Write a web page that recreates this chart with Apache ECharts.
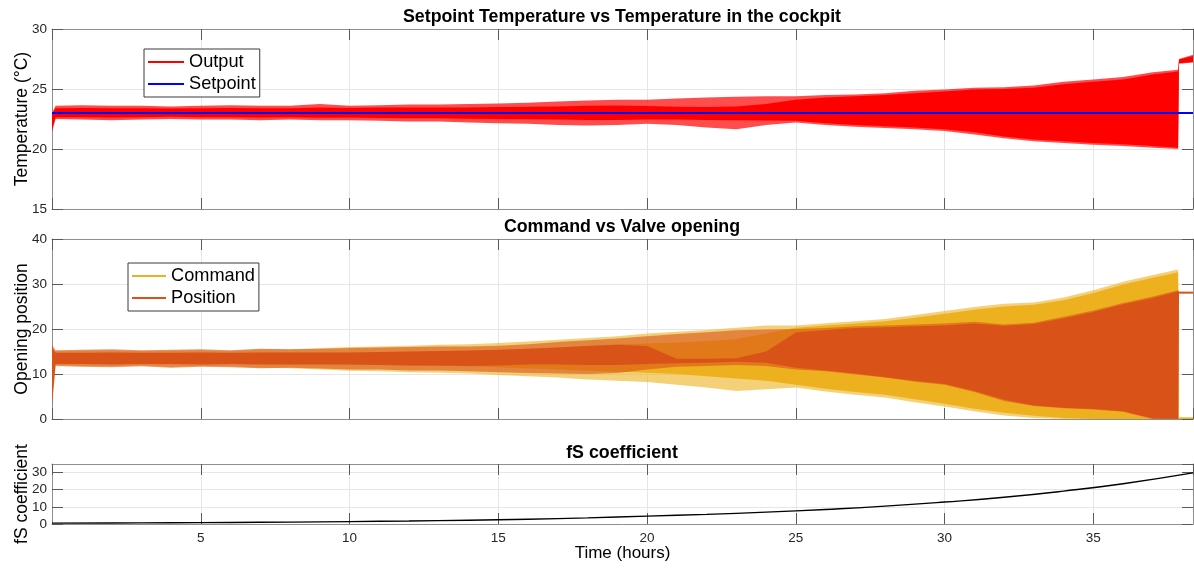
<!DOCTYPE html>
<html>
<head>
<meta charset="utf-8">
<script src="https://cdn.jsdelivr.net/npm/echarts@6/dist/echarts.min.js"></script>
<style>
html,body{margin:0;padding:0;background:#fff;}
#chart{width:1194px;height:569px;}
</style>
</head>
<body>
<div id="chart"></div>
<script>
// ---------- DATA ----------
// time nodes (hours) for envelope readings of the fast-oscillating signals
const timeNodes = [0, 0.12, 1, 2, 3, 4, 5, 6, 7, 8, 9, 10, 11, 12, 13, 14, 15, 16, 17, 18, 19, 20,
  21, 22, 23, 24, 25, 26, 27, 28, 29, 30, 31, 32, 33, 34, 35, 36, 37, 37.85, 37.88, 38.35];

// Output temperature (°C): spike extremes and dense core
const outputPeakHi = [23.0, 23.6, 23.65, 23.6, 23.6, 23.55, 23.6, 23.65, 23.6, 23.6, 23.75, 23.6, 23.65, 23.7, 23.7, 23.75, 23.8, 23.85, 23.95, 24.05, 24.1, 24.1,
  24.2, 24.3, 24.35, 24.4, 24.4, 24.5, 24.55, 24.65, 24.85, 24.95, 25.1, 25.15, 25.3, 25.6, 25.8, 26.0, 26.4, 26.6, 27.5, 27.85];
const outputPeakLo = [21.4, 22.5, 22.45, 22.4, 22.45, 22.5, 22.45, 22.45, 22.4, 22.45, 22.4, 22.4, 22.35, 22.3, 22.3, 22.2, 22.15, 22.1, 22.0, 21.95, 22.0, 22.1,
  22.0, 21.8, 21.65, 22.0, 22.2, 22.0, 21.85, 21.75, 21.65, 21.5, 21.2, 20.9, 20.65, 20.5, 20.35, 20.25, 20.1, 20.0, 27.1, 27.2];
const outputCoreHi = [22.9, 23.4, 23.42, 23.4, 23.4, 23.38, 23.4, 23.42, 23.4, 23.4, 23.45, 23.42, 23.45, 23.45, 23.45, 23.45, 23.5, 23.52, 23.55, 23.6, 23.62, 23.58,
  23.52, 23.5, 23.55, 23.75, 24.1, 24.3, 24.4, 24.5, 24.65, 24.8, 24.95, 25.0, 25.1, 25.4, 25.6, 25.8, 26.2, 26.45, 27.45, 27.75];
const outputCoreLo = [21.6, 22.65, 22.65, 22.62, 22.65, 22.68, 22.65, 22.65, 22.62, 22.65, 22.6, 22.62, 22.58, 22.56, 22.56, 22.52, 22.5, 22.48, 22.45, 22.42, 22.42, 22.45,
  22.45, 22.42, 22.4, 22.38, 22.35, 22.15, 22.0, 21.9, 21.8, 21.65, 21.4, 21.05, 20.8, 20.65, 20.5, 20.4, 20.25, 20.1, 27.15, 27.25];

// Setpoint (°C)
const setpointTime = [0, 38.35];
const setpointValue = [23, 23];

// Valve command (opening)
const commandPeakHi = [14.0, 15.1, 15.2, 15.3, 15.1, 15.2, 15.3, 15.1, 15.5, 15.5, 15.7, 16.0, 16.1, 16.3, 16.5, 16.6, 16.9, 17.2, 17.6, 18.0, 18.4, 19.0,
  19.4, 19.8, 20.3, 20.8, 20.8, 21.3, 21.7, 22.2, 23.1, 24.0, 24.9, 25.6, 25.9, 27.0, 28.6, 30.5, 32.0, 33.2, 0.35, 0.35];
const commandPeakLo = [12.0, 12.0, 11.8, 11.7, 11.9, 11.6, 11.8, 11.7, 11.4, 11.3, 11.0, 10.7, 10.6, 10.4, 10.3, 10.1, 9.8, 9.5, 9.2, 8.8, 8.5, 8.2,
  7.6, 7.0, 6.2, 6.6, 7.0, 6.1, 5.4, 4.8, 3.7, 2.8, 1.7, 0.8, 0.2, 0.0, 0.0, 0.0, 0.0, 0.0, 0.0, 0.0];
const commandCoreHi = [13.8, 14.5, 14.5, 14.5, 14.5, 14.5, 14.5, 14.5, 14.6, 14.6, 14.6, 14.7, 14.8, 14.9, 15.0, 15.1, 15.3, 15.6, 15.9, 16.3, 16.6, 16.8,
  17.0, 17.3, 17.8, 19.0, 20.3, 20.8, 21.2, 21.7, 22.5, 23.4, 24.3, 25.0, 25.4, 26.4, 28.0, 29.9, 31.4, 32.6, 0.35, 0.35];
const commandCoreLo = [12.2, 12.4, 12.4, 12.4, 12.4, 12.4, 12.4, 12.4, 12.3, 12.3, 12.2, 12.1, 12.0, 11.9, 11.8, 11.7, 11.5, 11.2, 11.0, 10.7, 10.5, 10.3,
  10.0, 9.5, 9.0, 8.5, 7.6, 6.7, 6.0, 5.4, 4.4, 3.4, 2.3, 1.4, 0.7, 0.2, 0.0, 0.0, 0.0, 0.0, 0.0, 0.0];

// Valve position (opening)
const positionPeakHi = [16.5, 15.3, 15.4, 15.5, 15.3, 15.4, 15.5, 15.3, 15.6, 15.5, 15.6, 15.8, 15.9, 16.0, 16.1, 16.1, 16.3, 16.6, 17.1, 17.5, 17.9, 18.4,
  18.9, 19.3, 19.7, 19.9, 20.0, 20.2, 20.6, 20.8, 21.0, 21.2, 21.6, 21.0, 21.4, 22.7, 24.1, 25.8, 27.2, 28.6, 28.3, 28.3];
const positionPeakLo = [2.6, 11.8, 11.6, 11.5, 11.7, 11.4, 11.6, 11.5, 11.3, 11.4, 11.2, 11.0, 11.0, 10.8, 10.8, 10.6, 10.4, 10.2, 10.1, 10.0, 10.2, 11.0,
  11.6, 11.8, 12.0, 11.8, 11.0, 10.6, 9.9, 9.2, 8.3, 7.6, 6.0, 4.0, 2.9, 2.4, 2.1, 1.6, 0.0, 0.0, 27.9, 27.9];
const positionCoreHi = [16.0, 14.7, 14.7, 14.8, 14.7, 14.7, 14.8, 14.7, 14.8, 14.8, 14.8, 14.8, 14.9, 15.0, 15.1, 15.2, 15.4, 15.6, 15.9, 16.2, 16.5, 16.2,
  13.4, 13.4, 13.5, 15.0, 19.2, 19.8, 20.2, 20.4, 20.6, 20.8, 21.2, 20.7, 21.1, 22.4, 23.8, 25.5, 26.9, 28.4, 28.3, 28.3];
const positionCoreLo = [3.5, 12.2, 12.2, 12.1, 12.2, 12.2, 12.1, 12.2, 12.1, 12.1, 12.1, 12.1, 12.0, 11.9, 11.9, 11.8, 11.9, 12.1, 12.1, 12.0, 12.0, 12.2,
  12.4, 12.5, 12.7, 12.5, 11.4, 10.8, 10.1, 9.3, 8.5, 7.8, 6.2, 4.3, 3.0, 2.5, 2.2, 1.7, 0.1, 0.0, 27.9, 27.9];

// fS coefficient
const fsTime = [0, 2, 4, 6, 8, 10, 12, 14, 16, 18, 20, 22, 24, 26, 28, 30, 32, 34, 36, 38.35];
const fsValue = [0.5, 0.6, 0.75, 0.9, 1.1, 1.4, 1.75, 2.2, 2.8, 3.6, 4.6, 5.6, 6.9, 8.5, 10.4, 12.8, 15.6, 19.2, 23.5, 29.8];

// axis settings
const timeMin = 0, timeMax = 38.35, timeStep = 5;
const tempMin = 15, tempMax = 30, tempStep = 5;
const openMin = 0, openMax = 40, openStep = 10;
const fsMin = 0, fsMax = 35, fsStep = 10;

// ---------- CHART ----------
const FONT = 'Liberation Sans, Arial, Helvetica, sans-serif';
const BOX = '#8f8f8f', TICK = '#5a5a5a', GRIDC = '#e6e6e6', LBL = '#262626';

function band(name, xi, yi, hi, lo, color, opacity, z) {
  const rows = timeNodes.map((t, i) => [t, lo[i], hi[i]]);
  return {
    name: name, type: 'custom', xAxisIndex: xi, yAxisIndex: yi, z: z, silent: true,
    itemStyle: {color: color},
    encode: {x: 0, y: [1, 2]},
    data: rows,
    renderItem: function (params, api) {
      if (params.dataIndex !== 0) return null;
      const top = rows.map(r => api.coord([r[0], r[2]]));
      const bot = rows.map(r => api.coord([r[0], r[1]])).reverse();
      return {type: 'polygon', shape: {points: top.concat(bot)}, style: {fill: color, opacity: opacity}};
    }
  };
}

function xAxisDef(gi, isTop, withLabels, name) {
  return {
    type: 'value', gridIndex: gi, position: isTop ? 'top' : 'bottom',
    min: timeMin, max: timeMax, interval: timeStep,
    name: name || '', nameLocation: 'middle', nameGap: 21, nameMoveOverlap: false,
    nameTextStyle: {fontFamily: FONT, fontSize: 17, color: '#000'},
    axisLine: {show: true, onZero: false, lineStyle: {color: BOX, width: 1}},
    axisTick: {show: true, inside: true, length: 11, lineStyle: {color: TICK, width: 1}},
    axisLabel: {show: withLabels, fontFamily: FONT, fontSize: 13.5, color: LBL, margin: 7,
      showMinLabel: false, showMaxLabel: false},
    splitLine: {show: !isTop, lineStyle: {color: GRIDC, width: 1}}
  };
}
function yAxisDef(gi, isRight, mn, mx, step, name) {
  return {
    type: 'value', gridIndex: gi, position: isRight ? 'right' : 'left',
    min: mn, max: mx, interval: step,
    name: name || '', nameLocation: 'middle', nameGap: 21, nameRotate: 90, nameMoveOverlap: false,
    nameTextStyle: {fontFamily: FONT, fontSize: 17.5, color: '#000'},
    axisLine: {show: true, onZero: false, lineStyle: {color: BOX, width: 1}},
    axisTick: {show: true, inside: true, length: 11, lineStyle: {color: TICK, width: 1}},
    axisLabel: {show: !isRight, fontFamily: FONT, fontSize: 13.5, color: LBL, margin: 5,
      showMaxLabel: !(mx === fsMax && step === fsStep)},
    splitLine: {show: !isRight, lineStyle: {color: GRIDC, width: 1}}
  };
}

const titleStyle = {fontFamily: FONT, fontSize: 17.8, fontWeight: 'bold', color: '#000', lineHeight: 18};
const legendText = {fontFamily: FONT, fontSize: 18.2, color: '#000', lineHeight: 20};

const option = {
  animation: false,
  backgroundColor: '#fff',
  title: [
    {text: 'Setpoint Temperature vs Temperature in the cockpit', left: 622, top: 8, textAlign: 'center', padding: 0, textStyle: titleStyle},
    {text: 'Command vs Valve opening', left: 622, top: 218, textAlign: 'center', padding: 0, textStyle: titleStyle},
    {text: 'fS coefficient', left: 622, top: 444, textAlign: 'center', padding: 0, textStyle: titleStyle}
  ],
  legend: [
    {orient: 'vertical', left: 144, top: 49, padding: [3, 4, 3, 4], itemGap: 2, itemWidth: 36, itemHeight: 2,
      selectedMode: false, borderColor: '#3a3a3a', borderWidth: 1, backgroundColor: '#fff', textStyle: legendText,
      data: [{name: 'Output', icon: 'rect', itemStyle: {color: '#ff0000', opacity: 1}},
             {name: 'Setpoint', icon: 'rect', itemStyle: {color: '#0000ff', opacity: 1}}]},
    {orient: 'vertical', left: 128, top: 263, padding: [3, 4, 3, 4], itemGap: 2, itemWidth: 34, itemHeight: 2,
      selectedMode: false, borderColor: '#3a3a3a', borderWidth: 1, backgroundColor: '#fff', textStyle: legendText,
      data: [{name: 'Command', icon: 'rect', itemStyle: {color: '#edb120', opacity: 1}},
             {name: 'Position', icon: 'rect', itemStyle: {color: '#d95319', opacity: 1}}]}
  ],
  grid: [
    {left: 52, right: 1, top: 29, height: 180, outerBoundsMode: 'none', containLabel: false},
    {left: 52, right: 1, top: 239, height: 180, outerBoundsMode: 'none', containLabel: false},
    {left: 52, right: 1, top: 464, height: 60, outerBoundsMode: 'none', containLabel: false}
  ],
  xAxis: [
    xAxisDef(0, false, false), xAxisDef(0, true, false),
    xAxisDef(1, false, false), xAxisDef(1, true, false),
    xAxisDef(2, false, true, 'Time (hours)'), xAxisDef(2, true, false)
  ],
  yAxis: [
    yAxisDef(0, false, tempMin, tempMax, tempStep, 'Temperature (°C)'), yAxisDef(0, true, tempMin, tempMax, tempStep),
    yAxisDef(1, false, openMin, openMax, openStep, 'Opening position'), yAxisDef(1, true, openMin, openMax, openStep),
    yAxisDef(2, false, fsMin, fsMax, fsStep, 'fS coefficient'), yAxisDef(2, true, fsMin, fsMax, fsStep)
  ],
  series: [
    band('Output peaks', 0, 0, outputPeakHi, outputPeakLo, '#ff0000', 0.7, 2),
    band('Output', 0, 0, outputCoreHi, outputCoreLo, '#ff0000', 1, 3),
    {name: 'Setpoint', type: 'line', xAxisIndex: 0, yAxisIndex: 0, z: 4, showSymbol: false, silent: true,
      color: '#0000ff', lineStyle: {color: '#0000ff', width: 2},
      data: setpointTime.map((t, i) => [t, setpointValue[i]])},
    band('Command peaks', 2, 2, commandPeakHi, commandPeakLo, '#edb120', 0.6, 2),
    band('Command', 2, 2, commandCoreHi, commandCoreLo, '#edb120', 1, 3),
    band('Position peaks', 2, 2, positionPeakHi, positionPeakLo, '#d95319', 0.6, 4),
    band('Position', 2, 2, positionCoreHi, positionCoreLo, '#d95319', 1, 5),
    {name: 'fS', type: 'line', xAxisIndex: 4, yAxisIndex: 4, z: 3, showSymbol: false, silent: true, smooth: true,
      color: '#000', lineStyle: {color: '#000', width: 1.4},
      data: fsTime.map((t, i) => [t, fsValue[i]])}
  ]
};

const chart = echarts.init(document.getElementById('chart'), null, {renderer: 'canvas'});
chart.setOption(option);
</script>
</body>
</html>
